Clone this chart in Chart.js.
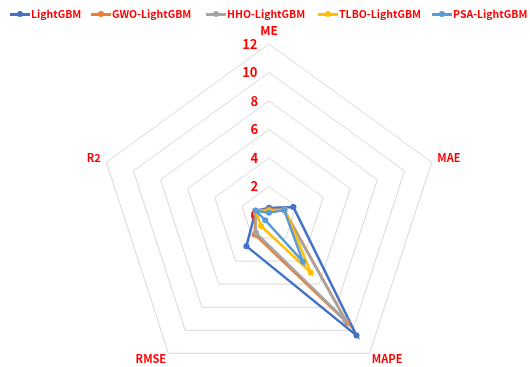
<!DOCTYPE html>
<html>
<head>
<meta charset="utf-8">
<script src="https://cdn.jsdelivr.net/npm/chart.js@4/dist/chart.umd.min.js"></script>
<style>
  html, body { margin: 0; padding: 0; background: #fff; overflow: hidden; width: 530px; height: 367px; }
  #wrap { position: absolute; left: 0; top: 0; width: 530px; height: 401px; }
  #legend { position: absolute; left: 0; top: 0; width: 530px; height: 28px; overflow: hidden; white-space: nowrap;
            font: bold 10.5px "Noto Sans CJK SC", sans-serif; color: #ff0000; z-index: 2; }
  .item { position: absolute; top: 6px; height: 16px; line-height: 16px; display: flex; align-items: center; }
  .mk { position: relative; width: 20px; height: 16px; margin-right: 1px; flex: none; }
  .mk::before { content: ""; position: absolute; left: 0; right: 0; top: 7px; height: 2.5px; background: var(--c); }
  .mk::after { content: ""; position: absolute; left: 7px; top: 5.2px; width: 6px; height: 6px; border-radius: 50%; background: var(--c); }
</style>
</head>
<body>
<div id="legend"></div>
<div id="wrap"><canvas id="radar"></canvas></div>
<script>
// Axes of the radar, clockwise from the top
const metrics = ['ME', 'MAE', 'MAPE', 'RMSE', 'R2'];

// Error metrics per model, in the order of `metrics`
const seriesNames = ['LightGBM', 'GWO-LightGBM', 'HHO-LightGBM', 'TLBO-LightGBM', 'PSA-LightGBM'];
const lightgbm = [0.5, 1.8, 10.45, 2.7, 0.98];
const gwoLightgbm = [0.38, 1.12, 9.35, 1.7, 0.99];
const hhoLightgbm = [0.33, 1.08, 9.1, 1.55, 0.99];
const tlboLightgbm = [0.28, 1.18, 5.0, 0.95, 0.99];
const psaLightgbm = [0.15, 1.12, 4.05, 0.45, 0.99];

// Radial tick marks
const tickMin = 0;
const tickMax = 12;
const tickStep = 2;

const seriesColors = ['#4472C4', '#ED7D31', '#A5A5A5', '#FFC000', '#5B9BD5'];
const seriesValues = [lightgbm, gwoLightgbm, hhoLightgbm, tlboLightgbm, psaLightgbm];

const fontFamily = '"Noto Sans CJK SC", "Liberation Sans", sans-serif';
const red = '#ff0000';

// Legend row
const legendEl = document.getElementById('legend');
const legendLeft = [10, 91, 206, 318, 432];
seriesNames.forEach((name, i) => {
  const item = document.createElement('div');
  item.className = 'item';
  item.style.left = legendLeft[i] + 'px';
  const mk = document.createElement('span');
  mk.className = 'mk';
  mk.style.setProperty('--c', seriesColors[i]);
  const txt = document.createElement('span');
  txt.textContent = name;
  item.appendChild(mk);
  item.appendChild(txt);
  legendEl.appendChild(item);
});

// Tick numbers sit just left of the vertical axis: pad them with trailing
// spaces so the centred text ends a fixed gap before the axis.
const tickFont = { family: fontFamily, size: 13, weight: 'bold' };
const measureCtx = document.createElement('canvas').getContext('2d');
measureCtx.font = `bold ${tickFont.size}px ${fontFamily}`;
const spaceW = measureCtx.measureText(' ').width || 3;
const tickGap = 11;
function tickLabel(v) {
  const s = String(Math.round(v));
  const w = measureCtx.measureText(s).width;
  const n = Math.max(0, Math.round((w + 2 * tickGap) / spaceW));
  return s + ' '.repeat(n);
}

// Per-axis label spacing (top, right, bottom-right, bottom-left, left);
// Chart.js already adds half a tick-label height to every label's distance.
const labelPadding = [-0.5, -2.5, -4.5, -4.5, -2.5];
const labelLineHeight = [1, 0.4, 0.4, 0.4, 0.4];
const labelSize = [12, 11, 11, 11, 11];

const datasets = seriesNames.map((name, i) => ({
  label: name,
  data: seriesValues[i],
  borderColor: seriesColors[i],
  backgroundColor: seriesColors[i],
  pointBackgroundColor: seriesColors[i],
  pointBorderColor: seriesColors[i],
  borderWidth: 2.5,
  pointRadius: 3,
  pointBorderWidth: 0,
  fill: false,
  order: seriesNames.length - 1 - i
}));

new Chart(document.getElementById('radar'), {
  type: 'radar',
  data: { labels: metrics, datasets },
  options: {
    responsive: true,
    maintainAspectRatio: false,
    animation: false,
    layout: { padding: { top: 18, left: 8, right: 0, bottom: 0 } },
    plugins: { legend: { display: false }, tooltip: { enabled: false } },
    scales: {
      r: {
        // a hair below zero so the centre "0" label is still drawn
        min: tickMin - 1e-6,
        max: tickMax,
        angleLines: { display: false },
        grid: { color: '#D9D9D9', lineWidth: 1 },
        ticks: {
          stepSize: tickStep,
          color: red,
          showLabelBackdrop: false,
          font: tickFont,
          callback: tickLabel
        },
        pointLabels: {
          color: red,
          padding: (ctx) => labelPadding[ctx.index],
          font: (ctx) => ({ family: fontFamily, size: labelSize[ctx.index], weight: 'bold', lineHeight: labelLineHeight[ctx.index] })
        }
      }
    }
  }
});
</script>
</body>
</html>
